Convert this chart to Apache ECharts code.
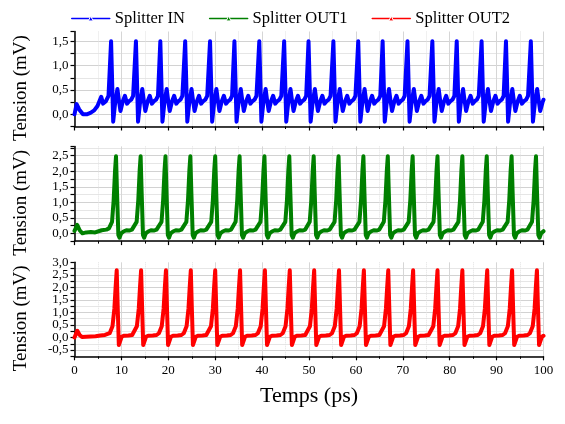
<!DOCTYPE html>
<html><head><meta charset="utf-8">
<script src="https://cdn.jsdelivr.net/npm/echarts@6/dist/echarts.min.js"></script>
<style>html,body{margin:0;padding:0;background:#fff}#c{width:565px;height:424px}</style>
</head><body><div id="c"></div>
<script>
const seriesNames = ['Splitter IN', 'Splitter OUT1', 'Splitter OUT2'];
const seriesColors = ['#0000ff', '#008000', '#ff0000'];
const xTicks = [0, 10, 20, 30, 40, 50, 60, 70, 80, 90, 100];
const yRanges = [[-0.25, 1.7], [-0.25, 2.8], [-0.75, 3.0]];

const splitterIn = [
[0,0.0],[0.45,0.21],[1.0,0.1],[1.8,0.0],[2.6,0.0],[3.4,0.03],[4.2,0.08],[4.9,0.17],[5.7,0.36],[6.1,0.22],[6.7,0.27],[7.25,0.38],[7.8,1.5],
[8.25,-0.15],[8.65,0.22],[9.15,0.52],[9.45,0.3],[9.8,0.07],[10.3,0.27],[10.75,0.38],[11.2,0.22],[11.65,0.27],[12.1,0.3],[12.5,0.38],[13.1,1.5],
[13.55,-0.15],[13.95,0.22],[14.45,0.52],[14.75,0.3],[15.1,0.07],[15.6,0.27],[16.05,0.38],[16.5,0.22],[16.95,0.27],[17.4,0.3],[17.8,0.38],[18.3,1.5],
[18.75,-0.15],[19.15,0.22],[19.65,0.52],[19.95,0.3],[20.3,0.07],[20.8,0.27],[21.25,0.38],[21.7,0.22],[22.15,0.27],[22.6,0.3],[23.0,0.38],[23.6,1.5],
[24.05,-0.15],[24.45,0.22],[24.95,0.52],[25.25,0.3],[25.6,0.07],[26.1,0.27],[26.55,0.38],[27.0,0.22],[27.45,0.27],[27.9,0.3],[28.3,0.38],[28.9,1.5],
[29.35,-0.15],[29.75,0.22],[30.25,0.52],[30.55,0.3],[30.9,0.07],[31.4,0.27],[31.85,0.38],[32.3,0.22],[32.75,0.27],[33.2,0.3],[33.6,0.38],[34.1,1.5],
[34.55,-0.15],[34.95,0.22],[35.45,0.52],[35.75,0.3],[36.1,0.07],[36.6,0.27],[37.05,0.38],[37.5,0.22],[37.95,0.27],[38.4,0.3],[38.8,0.38],[39.4,1.5],
[39.85,-0.15],[40.25,0.22],[40.75,0.52],[41.05,0.3],[41.4,0.07],[41.9,0.27],[42.35,0.38],[42.8,0.22],[43.25,0.27],[43.7,0.3],[44.1,0.38],[44.7,1.5],
[45.15,-0.15],[45.55,0.22],[46.05,0.52],[46.35,0.3],[46.7,0.07],[47.2,0.27],[47.65,0.38],[48.1,0.22],[48.55,0.27],[49.0,0.3],[49.4,0.38],[49.9,1.5],
[50.35,-0.15],[50.75,0.22],[51.25,0.52],[51.55,0.3],[51.9,0.07],[52.4,0.27],[52.85,0.38],[53.3,0.22],[53.75,0.27],[54.2,0.3],[54.6,0.38],[55.2,1.5],
[55.65,-0.15],[56.05,0.22],[56.55,0.52],[56.85,0.3],[57.2,0.07],[57.7,0.27],[58.15,0.38],[58.6,0.22],[59.05,0.27],[59.5,0.3],[59.9,0.38],[60.5,1.5],
[60.95,-0.15],[61.35,0.22],[61.85,0.52],[62.15,0.3],[62.5,0.07],[63.0,0.27],[63.45,0.38],[63.9,0.22],[64.35,0.27],[64.8,0.3],[65.2,0.38],[65.7,1.5],
[66.15,-0.15],[66.55,0.22],[67.05,0.52],[67.35,0.3],[67.7,0.07],[68.2,0.27],[68.65,0.38],[69.1,0.22],[69.55,0.27],[70.0,0.3],[70.4,0.38],[71.0,1.5],
[71.45,-0.15],[71.85,0.22],[72.35,0.52],[72.65,0.3],[73.0,0.07],[73.5,0.27],[73.95,0.38],[74.4,0.22],[74.85,0.27],[75.3,0.3],[75.7,0.38],[76.3,1.5],
[76.75,-0.15],[77.15,0.22],[77.65,0.52],[77.95,0.3],[78.3,0.07],[78.8,0.27],[79.25,0.38],[79.7,0.22],[80.15,0.27],[80.6,0.3],[81.0,0.38],[81.5,1.5],
[81.95,-0.15],[82.35,0.22],[82.85,0.52],[83.15,0.3],[83.5,0.07],[84.0,0.27],[84.45,0.38],[84.9,0.22],[85.35,0.27],[85.8,0.3],[86.2,0.38],[86.8,1.5],
[87.25,-0.15],[87.65,0.22],[88.15,0.52],[88.45,0.3],[88.8,0.07],[89.3,0.27],[89.75,0.38],[90.2,0.22],[90.65,0.27],[91.1,0.3],[91.5,0.38],[92.0,1.5],
[92.45,-0.15],[92.85,0.22],[93.35,0.52],[93.65,0.3],[94.0,0.07],[94.5,0.27],[94.95,0.38],[95.4,0.22],[95.85,0.27],[96.3,0.3],[96.7,0.38],[97.3,1.5],
[97.75,-0.15],[98.15,0.22],[98.65,0.52],[98.95,0.3],[99.3,0.07],[99.8,0.25],[100,0.3]
];

const splitterOut1 = [
[0,0.08],[0.6,0.27],[1.1,0.1],[1.7,0.0],[2.5,0.03],[3.5,0.04],[4.4,0.03],[4.8,0.09],[5.8,0.1],[6.8,0.12],[7.35,0.16],[8.0,0.37],[8.35,1.07],[8.65,2.04],[8.85,2.48],
[9.05,1.4],[9.35,-0.05],[9.6,-0.14],[9.95,0.0],[10.45,0.06],[11.05,0.1],[11.65,0.09],[12.25,0.12],[12.6,0.16],[13.25,0.37],[13.6,1.07],[13.9,2.04],[14.1,2.48],
[14.3,1.4],[14.6,-0.05],[14.85,-0.14],[15.2,0.0],[15.7,0.06],[16.3,0.1],[16.9,0.09],[17.5,0.12],[17.9,0.16],[18.55,0.37],[18.9,1.07],[19.2,2.04],[19.4,2.48],
[19.6,1.4],[19.9,-0.05],[20.15,-0.14],[20.5,0.0],[21.0,0.06],[21.6,0.1],[22.2,0.09],[22.8,0.12],[23.2,0.16],[23.85,0.37],[24.2,1.07],[24.5,2.04],[24.7,2.48],
[24.9,1.4],[25.2,-0.05],[25.45,-0.14],[25.8,0.0],[26.3,0.06],[26.9,0.1],[27.5,0.09],[28.1,0.12],[28.5,0.16],[29.15,0.37],[29.5,1.07],[29.8,2.04],[30.0,2.48],
[30.2,1.4],[30.5,-0.05],[30.75,-0.14],[31.1,0.0],[31.6,0.06],[32.2,0.1],[32.8,0.09],[33.4,0.12],[33.7,0.16],[34.35,0.37],[34.7,1.07],[35.0,2.04],[35.2,2.48],
[35.4,1.4],[35.7,-0.05],[35.95,-0.14],[36.3,0.0],[36.8,0.06],[37.4,0.1],[38.0,0.09],[38.6,0.12],[39.0,0.16],[39.65,0.37],[40.0,1.07],[40.3,2.04],[40.5,2.48],
[40.7,1.4],[41.0,-0.05],[41.25,-0.14],[41.6,0.0],[42.1,0.06],[42.7,0.1],[43.3,0.09],[43.9,0.12],[44.3,0.16],[44.95,0.37],[45.3,1.07],[45.6,2.04],[45.8,2.48],
[46.0,1.4],[46.3,-0.05],[46.55,-0.14],[46.9,0.0],[47.4,0.06],[48.0,0.1],[48.6,0.09],[49.2,0.12],[49.5,0.16],[50.15,0.37],[50.5,1.07],[50.8,2.04],[51.0,2.48],
[51.2,1.4],[51.5,-0.05],[51.75,-0.14],[52.1,0.0],[52.6,0.06],[53.2,0.1],[53.8,0.09],[54.4,0.12],[54.8,0.16],[55.45,0.37],[55.8,1.07],[56.1,2.04],[56.3,2.48],
[56.5,1.4],[56.8,-0.05],[57.05,-0.14],[57.4,0.0],[57.9,0.06],[58.5,0.1],[59.1,0.09],[59.7,0.12],[60.1,0.16],[60.75,0.37],[61.1,1.07],[61.4,2.04],[61.6,2.48],
[61.8,1.4],[62.1,-0.05],[62.35,-0.14],[62.7,0.0],[63.2,0.06],[63.8,0.1],[64.4,0.09],[65.0,0.12],[65.3,0.16],[65.95,0.37],[66.3,1.07],[66.6,2.04],[66.8,2.48],
[67.0,1.4],[67.3,-0.05],[67.55,-0.14],[67.9,0.0],[68.4,0.06],[69.0,0.1],[69.6,0.09],[70.2,0.12],[70.6,0.16],[71.25,0.37],[71.6,1.07],[71.9,2.04],[72.1,2.48],
[72.3,1.4],[72.6,-0.05],[72.85,-0.14],[73.2,0.0],[73.7,0.06],[74.3,0.1],[74.9,0.09],[75.5,0.12],[75.9,0.16],[76.55,0.37],[76.9,1.07],[77.2,2.04],[77.4,2.48],
[77.6,1.4],[77.9,-0.05],[78.15,-0.14],[78.5,0.0],[79.0,0.06],[79.6,0.1],[80.2,0.09],[80.8,0.12],[81.2,0.16],[81.85,0.37],[82.2,1.07],[82.5,2.04],[82.7,2.48],
[82.9,1.4],[83.2,-0.05],[83.45,-0.14],[83.8,0.0],[84.3,0.06],[84.9,0.1],[85.5,0.09],[86.1,0.12],[86.4,0.16],[87.05,0.37],[87.4,1.07],[87.7,2.04],[87.9,2.48],
[88.1,1.4],[88.4,-0.05],[88.65,-0.14],[89.0,0.0],[89.5,0.06],[90.1,0.1],[90.7,0.09],[91.3,0.12],[91.7,0.16],[92.35,0.37],[92.7,1.07],[93.0,2.04],[93.2,2.48],
[93.4,1.4],[93.7,-0.05],[93.95,-0.14],[94.3,0.0],[94.8,0.06],[95.4,0.1],[96.0,0.09],[96.6,0.12],[96.9,0.16],[97.55,0.37],[97.9,1.07],[98.2,2.04],[98.4,2.48],
[98.6,1.4],[98.9,-0.05],[99.15,-0.14],[99.5,0.0],[100,0.07]
];

const splitterOut2 = [
[0,0.0],[0.6,0.27],[1.1,0.1],[1.6,0.02],[2.5,0.03],[3.5,0.04],[4.5,0.05],[5.5,0.08],[6.5,0.1],[7.5,0.17],[8.1,0.45],[8.5,1.15],[8.78,2.05],[9.0,2.68],
[9.2,1.3],[9.45,-0.3],[9.6,-0.36],[9.85,-0.34],[10.05,0.03],[10.5,0.07],[11.5,0.08],[12.3,0.1],[12.7,0.17],[13.3,0.45],[13.7,1.15],[13.98,2.05],[14.2,2.68],
[14.4,1.3],[14.65,-0.3],[14.8,-0.36],[15.05,-0.34],[15.25,0.03],[15.7,0.07],[16.7,0.08],[17.5,0.1],[18.0,0.17],[18.6,0.45],[19.0,1.15],[19.28,2.05],[19.5,2.68],
[19.7,1.3],[19.95,-0.3],[20.1,-0.36],[20.35,-0.34],[20.55,0.03],[21.0,0.07],[22.0,0.08],[22.8,0.1],[23.3,0.17],[23.9,0.45],[24.3,1.15],[24.58,2.05],[24.8,2.68],
[25.0,1.3],[25.25,-0.3],[25.4,-0.36],[25.65,-0.34],[25.85,0.03],[26.3,0.07],[27.3,0.08],[28.1,0.1],[28.5,0.17],[29.1,0.45],[29.5,1.15],[29.78,2.05],[30.0,2.68],
[30.2,1.3],[30.45,-0.3],[30.6,-0.36],[30.85,-0.34],[31.05,0.03],[31.5,0.07],[32.5,0.08],[33.3,0.1],[33.8,0.17],[34.4,0.45],[34.8,1.15],[35.08,2.05],[35.3,2.68],
[35.5,1.3],[35.75,-0.3],[35.9,-0.36],[36.15,-0.34],[36.35,0.03],[36.8,0.07],[37.8,0.08],[38.6,0.1],[39.1,0.17],[39.7,0.45],[40.1,1.15],[40.38,2.05],[40.6,2.68],
[40.8,1.3],[41.05,-0.3],[41.2,-0.36],[41.45,-0.34],[41.65,0.03],[42.1,0.07],[43.1,0.08],[43.9,0.1],[44.4,0.17],[45.0,0.45],[45.4,1.15],[45.68,2.05],[45.9,2.68],
[46.1,1.3],[46.35,-0.3],[46.5,-0.36],[46.75,-0.34],[46.95,0.03],[47.4,0.07],[48.4,0.08],[49.2,0.1],[49.6,0.17],[50.2,0.45],[50.6,1.15],[50.88,2.05],[51.1,2.68],
[51.3,1.3],[51.55,-0.3],[51.7,-0.36],[51.95,-0.34],[52.15,0.03],[52.6,0.07],[53.6,0.08],[54.4,0.1],[54.9,0.17],[55.5,0.45],[55.9,1.15],[56.18,2.05],[56.4,2.68],
[56.6,1.3],[56.85,-0.3],[57.0,-0.36],[57.25,-0.34],[57.45,0.03],[57.9,0.07],[58.9,0.08],[59.7,0.1],[60.2,0.17],[60.8,0.45],[61.2,1.15],[61.48,2.05],[61.7,2.68],
[61.9,1.3],[62.15,-0.3],[62.3,-0.36],[62.55,-0.34],[62.75,0.03],[63.2,0.07],[64.2,0.08],[65.0,0.1],[65.4,0.17],[66.0,0.45],[66.4,1.15],[66.68,2.05],[66.9,2.68],
[67.1,1.3],[67.35,-0.3],[67.5,-0.36],[67.75,-0.34],[67.95,0.03],[68.4,0.07],[69.4,0.08],[70.2,0.1],[70.7,0.17],[71.3,0.45],[71.7,1.15],[71.98,2.05],[72.2,2.68],
[72.4,1.3],[72.65,-0.3],[72.8,-0.36],[73.05,-0.34],[73.25,0.03],[73.7,0.07],[74.7,0.08],[75.5,0.1],[75.9,0.17],[76.5,0.45],[76.9,1.15],[77.18,2.05],[77.4,2.68],
[77.6,1.3],[77.85,-0.3],[78.0,-0.36],[78.25,-0.34],[78.45,0.03],[78.9,0.07],[79.9,0.08],[80.7,0.1],[81.2,0.17],[81.8,0.45],[82.2,1.15],[82.48,2.05],[82.7,2.68],
[82.9,1.3],[83.15,-0.3],[83.3,-0.36],[83.55,-0.34],[83.75,0.03],[84.2,0.07],[85.2,0.08],[86.0,0.1],[86.5,0.17],[87.1,0.45],[87.5,1.15],[87.78,2.05],[88.0,2.68],
[88.2,1.3],[88.45,-0.3],[88.6,-0.36],[88.85,-0.34],[89.05,0.03],[89.5,0.07],[90.5,0.08],[91.3,0.1],[91.8,0.17],[92.4,0.45],[92.8,1.15],[93.08,2.05],[93.3,2.68],
[93.5,1.3],[93.75,-0.3],[93.9,-0.36],[94.15,-0.34],[94.35,0.03],[94.8,0.07],[95.8,0.08],[96.6,0.1],[97.1,0.17],[97.7,0.45],[98.1,1.15],[98.38,2.05],[98.6,2.68],
[98.8,1.3],[99.05,-0.3],[99.2,-0.36],[99.45,-0.34],[99.65,0.03],[100,0.07]
];

const allData = [splitterIn, splitterOut1, splitterOut2];
const FONT = 'Liberation Serif';
const gridTops = [31.5, 146.4, 262.3];
const gridHeights = [95, 94.7, 94];

function yFmt(v) {
  const r = Math.round(v * 100) / 100;
  if (Math.abs(r * 2 - Math.round(r * 2)) > 1e-6) return '';
  return r.toFixed(1).replace('.', ',');
}

const chart = echarts.init(document.getElementById('c'), null, {renderer: 'canvas'});
const grids = [], xAxes = [], yAxes = [], series = [];
for (let i = 0; i < 3; i++) {
  grids.push({left: 74.5, right: 21.5, top: gridTops[i], height: gridHeights[i], containLabel: false});
  xAxes.push({
    type: 'value', gridIndex: i, min: xTicks[0], max: xTicks[xTicks.length - 1], interval: 10,
    axisLine: {onZero: false, lineStyle: {color: '#000', width: 1.5}},
    axisTick: {show: true, length: 4, lineStyle: {color: '#000', width: 1.2}},
    minorTick: {show: true, splitNumber: 2, length: 2.5, lineStyle: {color: '#000', width: 1}},
    axisLabel: {show: i === 2, color: '#000', fontFamily: FONT, fontSize: 13, margin: 8},
    splitLine: {show: true, lineStyle: {color: '#d6d6d6', width: 1}},
    minorSplitLine: {show: true, lineStyle: {color: '#e2e2e2', width: 1, type: 'dotted'}},
    name: i === 2 ? 'Temps (ps)' : '', nameLocation: 'middle', nameGap: 29,
    nameTextStyle: {color: '#000', fontFamily: FONT, fontSize: 22}
  });
  yAxes.push({
    type: 'value', gridIndex: i, min: yRanges[i][0], max: yRanges[i][1], interval: 0.25,
    axisLine: {show: true, onZero: false, lineStyle: {color: '#000', width: 1.5}},
    axisTick: {show: true, length: 4, lineStyle: {color: '#000', width: 1.2}},
    axisLabel: {color: '#000', fontFamily: FONT, fontSize: 13, margin: 6, formatter: yFmt, showMaxLabel: true, showMinLabel: true},
    splitLine: {show: true, showMaxLine: false, lineStyle: {color: ['#e6e6e6', '#d2d2d2'], width: 1}},
    name: 'Tension (mV)', nameLocation: 'middle', nameGap: 44,
    nameTextStyle: {color: '#000', fontFamily: FONT, fontSize: 19, padding: [0, 18, 0, 0]}
  });
  series.push({
    name: seriesNames[i], type: 'line', xAxisIndex: i, yAxisIndex: i,
    data: allData[i], showSymbol: false, symbol: 'triangle',
    lineStyle: {color: seriesColors[i], width: 4, join: 'round', cap: 'round'}, itemStyle: {color: seriesColors[i]},
    clip: true, animation: false
  });
}

chart.setOption({
  animation: false,
  backgroundColor: '#fff',
  legend: {
    data: seriesNames, top: 5, left: 66, itemWidth: 38, itemHeight: 6, itemGap: 24,
    textStyle: {color: '#000', fontFamily: FONT, fontSize: 16.5},
    lineStyle: {width: 1.5}, itemStyle: {borderColor: '#fff', borderWidth: 1}
  },
  grid: grids, xAxis: xAxes, yAxis: yAxes, series: series
});
</script></body></html>
